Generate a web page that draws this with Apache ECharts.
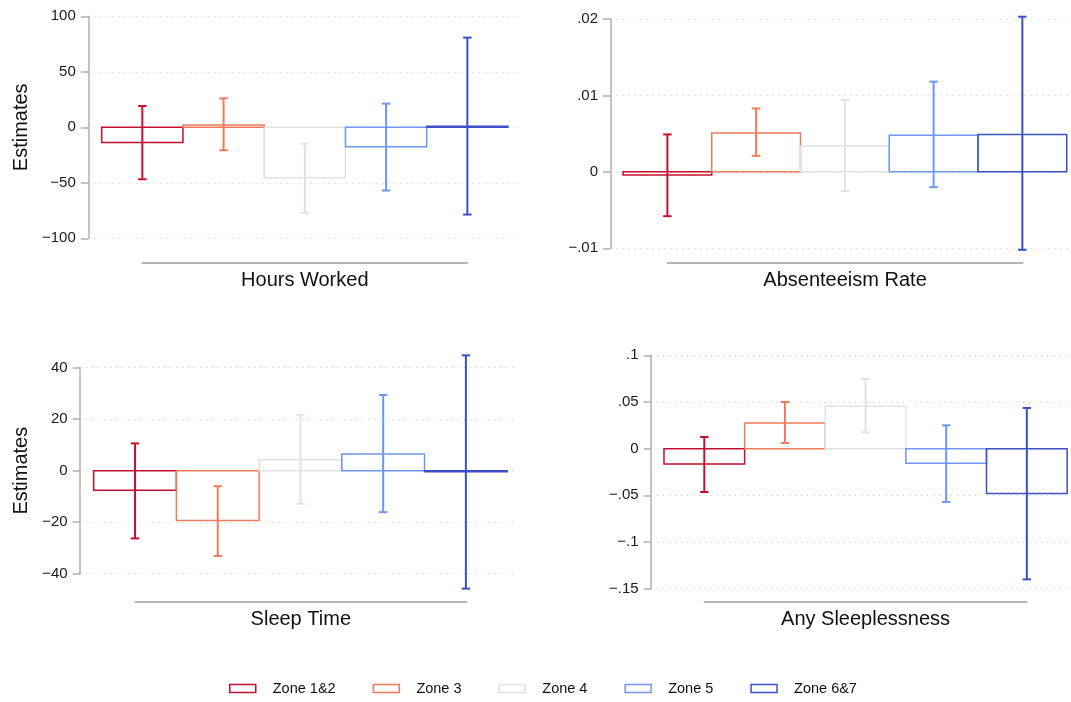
<!DOCTYPE html>
<html>
<head>
<meta charset="utf-8">
<script src="https://cdn.jsdelivr.net/npm/echarts@6/dist/echarts.min.js"></script>
<style>
html,body{margin:0;padding:0;background:#fff;}
#chart{width:1071px;height:702px;}
</style>
</head>
<body>
<div id="chart"></div>
<script>
// ---------- data ----------
const zones = ['Zone 1&2', 'Zone 3', 'Zone 4', 'Zone 5', 'Zone 6&7'];
const outcomes = ['Hours Worked', 'Absenteeism Rate', 'Sleep Time', 'Any Sleeplessness'];

const hoursEst = [-13.8, 2.0, -45.5, -17.5, 0.9];
const hoursLo  = [-46.8, -20.7, -77.1, -57.0, -78.6];
const hoursHi  = [19.2, 26.1, -14.7, 21.3, 80.8];

const absEst = [-0.0004, 0.0051, 0.0034, 0.0048, 0.0049];
const absLo  = [-0.0058, 0.0021, -0.0025, -0.0020, -0.0102];
const absHi  = [0.0049, 0.0083, 0.0094, 0.0118, 0.0203];

const sleepEst = [-7.6, -19.3, 4.3, 6.5, -0.4];
const sleepLo  = [-26.3, -33.1, -12.8, -16.1, -45.8];
const sleepHi  = [10.6, -6.0, 21.7, 29.4, 44.8];

const anyEst = [-0.0164, 0.0275, 0.0454, -0.0157, -0.0479];
const anyLo  = [-0.0464, 0.0061, 0.0175, -0.0571, -0.1400];
const anyHi  = [0.0125, 0.0500, 0.0746, 0.0250, 0.0436];

const hoursTicks = [-100, -50, 0, 50, 100];
const hoursTickLabels = ['\u2212100', '\u221250', '0', '50', '100'];
const absTicks = [-0.01, 0, 0.01, 0.02];
const absTickLabels = ['\u2212.01', '0', '.01', '.02'];
const sleepTicks = [-40, -20, 0, 20, 40];
const sleepTickLabels = ['\u221240', '\u221220', '0', '20', '40'];
const anyTicks = [-0.15, -0.1, -0.05, 0, 0.05, 0.1];
const anyTickLabels = ['\u2212.15', '\u2212.1', '\u2212.05', '0', '.05', '.1'];

// ---------- styles / layout ----------
const zoneColors = ['#c40f2e', '#ef7b5d', '#e2e2e2', '#7095f2', '#3c4fc4'];
const FONT = "'Liberation Sans', Arial, Helvetica, sans-serif";

const panelData = [
  {est: hoursEst, lo: hoursLo, hi: hoursHi, ticks: hoursTicks, labels: hoursTickLabels},
  {est: absEst, lo: absLo, hi: absHi, ticks: absTicks, labels: absTickLabels},
  {est: sleepEst, lo: sleepLo, hi: sleepHi, ticks: sleepTicks, labels: sleepTickLabels},
  {est: anyEst, lo: anyLo, hi: anyHi, ticks: anyTicks, labels: anyTickLabels}
];

const layout = [
  {axisX: 88.3, right: 520, top: 16.3, bottom: 238.3, xmin: 0.335, xmax: 5.648, lineL: 142.3, lineR: 467.3, lineY: 262.7, yName: 'Estimates', nameGap: 57},
  {axisX: 610.5, right: 1071, top: 19, bottom: 248.3, xmin: 0.359, xmax: 5.548, lineL: 667.4, lineR: 1022.7, lineY: 262.7, yName: '', nameGap: 0},
  {axisX: 80.2, right: 518, top: 367.7, bottom: 573.7, xmin: 0.337, xmax: 5.63, lineL: 135, lineR: 466.6, lineY: 601.7, yName: 'Estimates', nameGap: 49},
  {axisX: 651.1, right: 1071, top: 355.3, bottom: 588.7, xmin: 0.34, xmax: 5.548, lineL: 704.3, lineR: 1026.8, lineY: 601.7, yName: '', nameGap: 0}
];

function renderZone(params, api) {
  const x = api.value(0), est = api.value(1), lo = api.value(2), hi = api.value(3);
  const p0 = api.coord([x - 0.5, 0]);
  const p1 = api.coord([x + 0.5, est]);
  const pl = api.coord([x, lo]);
  const ph = api.coord([x, hi]);
  const color = api.visual('color');
  const cap = 4.2;
  return {
    type: 'group',
    children: [
      {type: 'rect', shape: {x: Math.min(p0[0], p1[0]), y: Math.min(p0[1], p1[1]), width: Math.abs(p1[0] - p0[0]), height: Math.max(Math.abs(p1[1] - p0[1]), 0.5)},
       style: {fill: 'none', stroke: color, lineWidth: 1.5}},
      {type: 'line', shape: {x1: pl[0], y1: pl[1], x2: ph[0], y2: ph[1]}, style: {stroke: color, lineWidth: 2}},
      {type: 'line', shape: {x1: pl[0] - cap, y1: pl[1], x2: pl[0] + cap, y2: pl[1]}, style: {stroke: color, lineWidth: 2}},
      {type: 'line', shape: {x1: ph[0] - cap, y1: ph[1], x2: ph[0] + cap, y2: ph[1]}, style: {stroke: color, lineWidth: 2}}
    ]
  };
}

const plotGrids = [], lineGrids = [], xAxes = [], yAxes = [], series = [];

layout.forEach((L, p) => {
  const D = panelData[p];
  plotGrids.push({left: L.axisX, top: L.top, width: L.right - L.axisX, height: L.bottom - L.top, containLabel: false});
  lineGrids.push({left: L.lineL, top: L.lineY - 1, width: L.lineR - L.lineL, height: 1, containLabel: false});
  xAxes.push({gridIndex: p, type: 'value', min: L.xmin, max: L.xmax, show: false});
  const step = D.ticks[1] - D.ticks[0];
  yAxes.push({
    gridIndex: p, type: 'value', position: 'left',
    min: D.ticks[0], max: D.ticks[D.ticks.length - 1], interval: step,
    name: L.yName, nameLocation: 'middle', nameGap: L.nameGap, nameRotate: 90,
    nameTextStyle: {fontFamily: FONT, fontSize: 20, color: '#111'},
    axisLine: {show: true, lineStyle: {color: '#b0b0b0', width: 1.5}},
    axisTick: {show: true, length: 7.5, lineStyle: {color: '#b0b0b0', width: 1.5}},
    axisLabel: {
      fontFamily: FONT, fontSize: 15, color: '#1a1a1a', margin: 12.5,
      formatter: function (v) {
        for (let i = 0; i < D.ticks.length; i++) {
          if (Math.abs(D.ticks[i] - v) < 1e-9) return D.labels[i];
        }
        return '';
      }
    },
    splitLine: {show: true, lineStyle: {color: '#c4c4c4', width: 1, type: [1, 5]}}
  });
});

layout.forEach((L, p) => {
  const g = 4 + p;
  xAxes.push({
    gridIndex: g, type: 'value', min: 0, max: 1, position: 'bottom',
    axisLine: {show: true, lineStyle: {color: '#a0a0a0', width: 1.5}},
    axisTick: {show: false}, axisLabel: {show: false}, splitLine: {show: false},
    name: outcomes[p], nameLocation: 'middle', nameGap: 8,
    nameTextStyle: {fontFamily: FONT, fontSize: 20, color: '#111', verticalAlign: 'top'}
  });
  yAxes.push({gridIndex: g, type: 'value', show: false});
});

panelData.forEach((D, p) => {
  zones.forEach((z, i) => {
    series.push({
      type: 'custom', name: z, xAxisIndex: p, yAxisIndex: p,
      renderItem: renderZone, clip: false,
      itemStyle: {color: zoneColors[i]},
      encode: {x: 0, y: [1, 2, 3]},
      data: [[i + 1, D.est[i], D.lo[i], D.hi[i]]]
    });
  });
});

const chart = echarts.init(document.getElementById('chart'), null, {renderer: 'canvas'});
chart.setOption({
  animation: false,
  backgroundColor: '#fff',
  grid: plotGrids.concat(lineGrids),
  xAxis: xAxes,
  yAxis: yAxes,
  legend: {
    left: 229, top: 681, orient: 'horizontal', padding: 0,
    itemWidth: 26, itemHeight: 8, itemGap: 37,
    textStyle: {fontFamily: FONT, fontSize: 14.5, color: '#111', padding: [0, 0, 0, 12]},
    data: zones.map((n, i) => ({name: n, icon: 'rect', itemStyle: {color: '#fff', borderColor: zoneColors[i], borderWidth: 1.5}}))
  },
  series: series
});
</script>
</body>
</html>
